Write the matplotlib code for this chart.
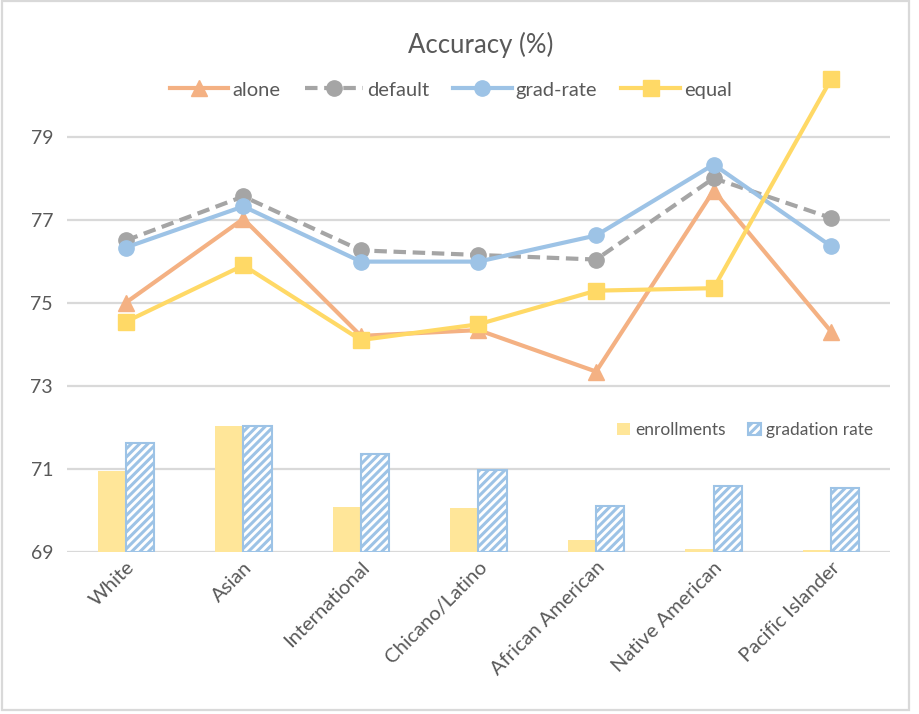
import matplotlib
matplotlib.use("Agg")
import matplotlib.pyplot as plt
import numpy as np
from matplotlib.patches import Rectangle

plt.rcParams['font.family'] = ['Lato', 'DejaVu Sans']
plt.rcParams['hatch.linewidth'] = 2.2

categories = ["White", "Asian", "International", "Chicano/Latino",
              "African American", "Native American", "Pacific Islander"]
alone = [75.0, 77.02, 74.2, 74.34, 73.34, 77.7, 74.3]
default = [76.5, 77.56, 76.26, 76.15, 76.04, 78.0, 77.04]
grad_rate = [76.33, 77.32, 75.99, 75.99, 76.62, 78.33, 76.36]
equal = [74.54, 75.9, 74.1, 74.48, 75.29, 75.35, 80.39]
enrollments = [70.95, 72.03, 70.08, 70.06, 69.28, 69.06, 69.04]
gradation_rate = [71.61, 72.03, 71.35, 70.97, 70.11, 70.58, 70.53]
yticks = [69, 71, 73, 75, 77, 79]

TXT = '#595959'
fig = plt.figure(figsize=(9.2, 7.14), dpi=100)
ax = fig.add_axes([67/920, 1-551.7/714, 823/920, 498/714])

x = np.arange(len(categories))
base = 69
bw = 0.24
b1 = ax.bar(x - bw/2, np.array(enrollments) - base, bw, bottom=base,
            color='#FFE699', edgecolor='none', zorder=2, label='enrollments')
b2 = ax.bar(x + bw/2, np.array(gradation_rate) - base, bw, bottom=base,
            facecolor='white', edgecolor='#9DC3E6', hatch='////', linewidth=1.5,
            zorder=2, label='gradation rate')

lw = 3.0
ms = 11
l1, = ax.plot(x, alone, color='#F4B183', lw=lw, marker='^', ms=ms, zorder=3, label='alone')
l2, = ax.plot(x, default, color='#A5A5A5', lw=lw, marker='o', ms=ms, zorder=3,
              linestyle=(0, (3, 1.6)), label='default')
l3, = ax.plot(x, grad_rate, color='#9DC3E6', lw=lw, marker='o', ms=ms, zorder=4, label='grad-rate')
l4, = ax.plot(x, equal, color='#FFD966', lw=lw, marker='s', ms=ms, zorder=4, label='equal')

ax.set_xlim(-0.5, len(categories) - 0.5)
ax.set_ylim(69, 81)
ax.set_yticks(yticks)
ax.set_yticklabels([str(v) for v in yticks], fontsize=14, color=TXT)
ax.set_xticks(x)
ax.set_xticklabels(categories, rotation=45, ha='right', va='top',
                   rotation_mode='anchor', fontsize=14.5, color=TXT)
ax.tick_params(axis='both', length=0)
ax.tick_params(axis='y', pad=10)
ax.tick_params(axis='x', pad=5)
for s in ax.spines.values():
    s.set_visible(False)
ax.grid(axis='y', color='#D9D9D9', lw=1.6, zorder=0)
ax.set_axisbelow(True)

fig.text(0.523, 1-45/714, 'Accuracy (%)', ha='center', va='center', fontsize=18.5, color=TXT)

leg1 = fig.legend(handles=[l1, l2, l3, l4], loc='center', bbox_to_anchor=(0.49, 1-90/714),
                  ncol=4, frameon=False, fontsize=14.5, handlelength=2.9,
                  handletextpad=0.2, columnspacing=1.2, labelcolor=TXT)
leg2 = fig.legend(handles=[b1, b2], loc='center', bbox_to_anchor=(745/920, 1-430/714),
                  ncol=2, frameon=False, fontsize=12.5, handlelength=0.75, handleheight=0.75,
                  handletextpad=0.3, columnspacing=1.3, labelcolor=TXT)

fig.patches.append(Rectangle((2/920, 4/714), 907/920, 709/714, transform=fig.transFigure,
                             fill=False, edgecolor='#D9D9D9', lw=1.6))

fig.savefig('out.png', dpi=100, facecolor='white')
